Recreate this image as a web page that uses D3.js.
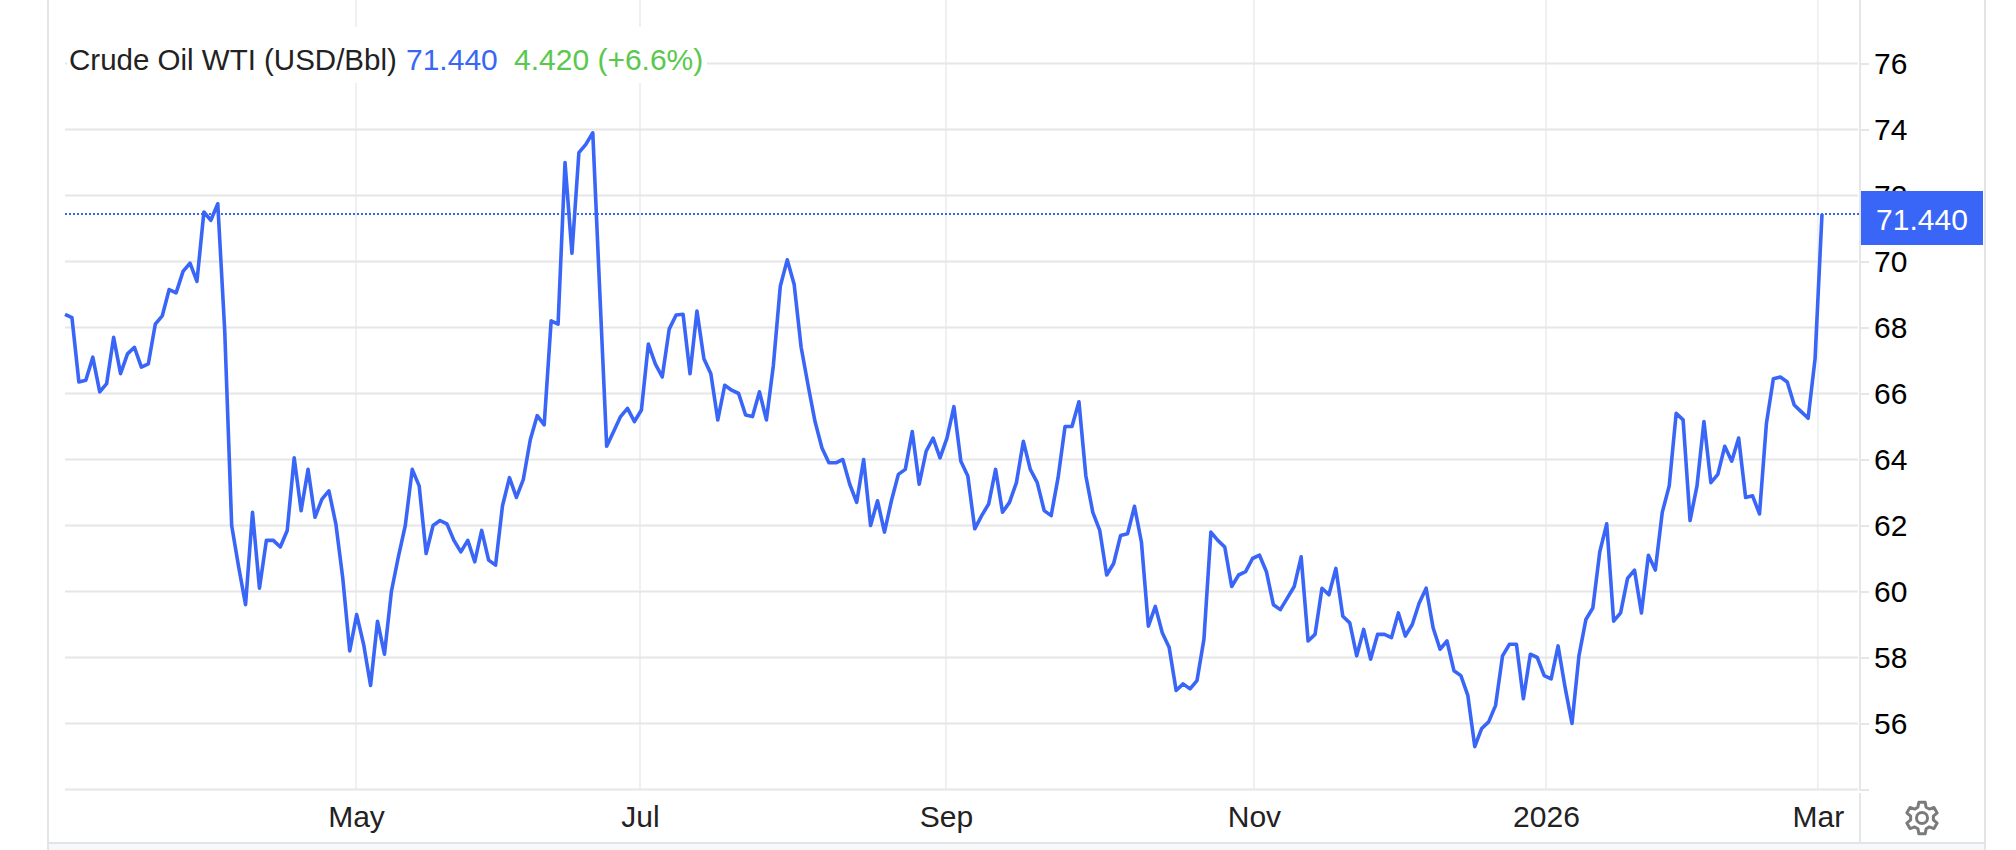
<!DOCTYPE html>
<html>
<head>
<meta charset="utf-8">
<script src="https://cdn.jsdelivr.net/npm/d3@7"></script>
<style>
    body { margin: 0; background: #fff; }
    text { font-family: "Liberation Sans", Helvetica, Arial, sans-serif; }
</style>
</head>
<body>
<div id="chart"></div>
<script>
// daily close, one value per trading day
const prices = [
    68.4, 68.3, 66.35, 66.4, 67.1, 66.05, 66.3, 67.7, 66.6, 67.2,
    67.4, 66.8, 66.9, 68.1, 68.35, 69.15, 69.05, 69.7, 69.95, 69.4,
    71.5, 71.25, 71.75, 67.9, 62.0, 60.75, 59.6, 62.4, 60.1, 61.55,
    61.55, 61.35, 61.85, 64.05, 62.45, 63.7, 62.25, 62.8, 63.05, 62.05,
    60.4, 58.2, 59.3, 58.4, 57.15, 59.1, 58.1, 60.0, 61.05, 62.0,
    63.7, 63.2, 61.15, 62.0, 62.15, 62.05, 61.55, 61.2, 61.55, 60.9,
    61.85, 60.95, 60.8, 62.6, 63.45, 62.85, 63.4, 64.6, 65.33, 65.05,
    68.2, 68.1, 73.0, 70.25, 73.3, 73.55, 73.9, 69.1, 64.4, 64.85,
    65.3, 65.55, 65.15, 65.5, 67.5, 66.9, 66.5, 67.95, 68.38, 68.4,
    66.6, 68.5, 67.05, 66.6, 65.2, 66.25, 66.1, 66.0, 65.35, 65.3,
    66.05, 65.2, 66.85, 69.25, 70.05, 69.3, 67.4, 66.25, 65.15, 64.35,
    63.9, 63.9, 64.0, 63.25, 62.7, 64.0, 62.0, 62.75, 61.8, 62.75,
    63.55, 63.7, 64.85, 63.25, 64.25, 64.65, 64.05, 64.65, 65.6, 63.95,
    63.5, 61.9, 62.3, 62.65, 63.7, 62.4, 62.7, 63.3, 64.55, 63.7,
    63.3, 62.45, 62.3, 63.45, 65.0, 65.0, 65.75, 63.5, 62.4, 61.85,
    60.5, 60.85, 61.7, 61.75, 62.58, 61.5, 58.95, 59.55, 58.75, 58.3,
    57.0, 57.2, 57.05, 57.3, 58.55, 61.8, 61.55, 61.35, 60.15, 60.5,
    60.6, 61.0, 61.1, 60.6, 59.6, 59.45, 59.8, 60.15, 61.05, 58.5,
    58.7, 60.1, 59.9, 60.7, 59.25, 59.05, 58.05, 58.85, 57.95, 58.7,
    58.7, 58.6, 59.35, 58.65, 59.0, 59.65, 60.1, 58.9, 58.25, 58.5,
    57.6, 57.45, 56.85, 55.3, 55.85, 56.05, 56.55, 58.05, 58.4, 58.4,
    56.75, 58.1, 58.0, 57.45, 57.35, 58.35, 57.1, 56.0, 58.05, 59.15,
    59.5, 61.2, 62.05, 59.1, 59.35, 60.4, 60.65, 59.35, 61.1, 60.65,
    62.4, 63.2, 65.4, 65.2, 62.15, 63.2, 65.15, 63.3, 63.55, 64.4,
    63.95, 64.65, 62.85, 62.9, 62.35, 65.1, 66.45, 66.5, 66.35, 65.65,
    65.45, 65.25, 67.05, 71.44
];
const monthLabels = ["May", "Jul", "Sep", "Nov", "2026", "Mar"];
const monthIndex = [41.9, 82.8, 126.85, 171.2, 213.25, 252.4];   // day number where each month starts
const priceTicks = [54, 56, 58, 60, 62, 64, 66, 68, 70, 72, 74, 76];
const hiddenTicks = [54];
const lastValue = "71.440";
const titleName = "Crude Oil WTI (USD/Bbl)";
const titleChange = "4.420 (+6.6%)";

const width = 2016;
const height = 850;
const blue = "#3a66f8";
const gridColor = "#e6e6e6";
const frameColor = "#e3e4e8";

const plotLeft = 65;
const plotRight = 1858;
const axisX = 1860;
const plotBottom = 790;

const svg = d3.select("#chart").append("svg")
    .attr("width", width)
    .attr("height", height)
    .style("display", "block");

const x = d3.scaleLinear().domain([0, prices.length - 1]).range([65, 1822]);
const y = d3.scaleLinear().domain([54, 76]).range([plotBottom - 0.5, 63.5]);

// outer frame
svg.append("rect").attr("x", 48).attr("y", 844).attr("width", 1937).attr("height", 6).attr("fill", "#f7f8fa");
svg.append("line").attr("x1", 48).attr("x2", 48).attr("y1", 0).attr("y2", 850)
    .attr("stroke", frameColor).attr("stroke-width", 2);
svg.append("line").attr("x1", 1985).attr("x2", 1985).attr("y1", 0).attr("y2", 850)
    .attr("stroke", frameColor).attr("stroke-width", 2);
svg.append("line").attr("x1", 48).attr("x2", 1985).attr("y1", 843).attr("y2", 843)
    .attr("stroke", frameColor).attr("stroke-width", 2);

// vertical grid
svg.append("g").selectAll("line")
    .data(monthIndex)
    .enter()
    .append("line")
    .attr("x1", d => x(d))
    .attr("x2", d => x(d))
    .attr("y1", 0)
    .attr("y2", plotBottom)
    .attr("stroke", "#eef1f3")
    .attr("stroke-width", 2);

// horizontal grid
svg.append("g").selectAll("line")
    .data(priceTicks)
    .enter()
    .append("line")
    .attr("x1", plotLeft)
    .attr("x2", plotRight)
    .attr("y1", d => y(d))
    .attr("y2", d => y(d))
    .attr("stroke", gridColor)
    .attr("stroke-width", 2);

// price axis on the right
const yAxis = d3.axisRight(y)
    .tickValues(priceTicks)
    .tickSize(9)
    .tickPadding(5)
    .tickFormat(d => hiddenTicks.includes(d) ? "" : d);
const yAxisG = svg.append("g")
    .attr("transform", `translate(${axisX},0)`)
    .call(yAxis);
yAxisG.select(".domain").remove();
yAxisG.selectAll("line").attr("stroke", gridColor).attr("stroke-width", 2);
yAxisG.selectAll("text")
    .attr("fill", "#000")
    .style("font-size", "30px")
    .style("font-family", "'Liberation Sans', Helvetica, Arial, sans-serif");

svg.append("line").attr("x1", axisX).attr("x2", axisX).attr("y1", 0).attr("y2", plotBottom + 1)
    .attr("stroke", gridColor).attr("stroke-width", 2);
svg.append("line").attr("x1", axisX).attr("x2", axisX).attr("y1", plotBottom + 3).attr("y2", 843)
    .attr("stroke", gridColor).attr("stroke-width", 2);

// month axis
const xAxis = d3.axisBottom(x)
    .tickValues(monthIndex)
    .tickSize(0)
    .tickPadding(16)
    .tickFormat((d, i) => monthLabels[i]);
const xAxisG = svg.append("g")
    .attr("transform", `translate(0,${plotBottom})`)
    .call(xAxis);
xAxisG.select(".domain").remove();
xAxisG.selectAll("text")
    .attr("fill", "#222")
    .style("font-size", "30px")
    .style("font-family", "'Liberation Sans', Helvetica, Arial, sans-serif");

// last price dotted line
svg.append("line")
    .attr("x1", plotLeft)
    .attr("x2", axisX - 1)
    .attr("y1", y(prices[prices.length - 1]))
    .attr("y2", y(prices[prices.length - 1]))
    .attr("stroke", blue)
    .attr("stroke-width", 2)
    .attr("stroke-dasharray", "2 2");

const line = d3.line()
    .x((d, i) => x(i))
    .y(d => y(d));

svg.append("path")
    .datum(prices)
    .attr("d", line)
    .attr("fill", "none")
    .attr("stroke", blue)
    .attr("stroke-width", 3.6)
    .attr("stroke-linejoin", "round");

// title sits on a white patch that hides the grid behind it
svg.append("rect").attr("x", 67).attr("y", 27).attr("width", 640).attr("height", 56).attr("fill", "#fff");
svg.append("text").attr("x", 69).attr("y", 70).attr("fill", "#222").style("font-size", "29.5px").text(titleName);
svg.append("text").attr("x", 406).attr("y", 70).attr("fill", blue).style("font-size", "30px").text(lastValue);
svg.append("text").attr("x", 514).attr("y", 70).attr("fill", "#5ac84e").style("font-size", "30px").text(titleChange);

// last price tag
svg.append("rect").attr("x", 1861).attr("y", 191).attr("width", 122).attr("height", 54).attr("fill", blue);
svg.append("text")
    .attr("x", 1922)
    .attr("y", 230)
    .attr("text-anchor", "middle")
    .attr("fill", "#fff")
    .style("font-size", "30px")
    .text(lastValue);

// settings gear
const gearRadii = [16, 16, 11.5, 11.5];
const gearPoints = d3.range(6).flatMap(k => {
    const c = k * Math.PI / 3;
    return [c - 0.2, c + 0.2, c + 0.36, c + 0.68].map((a, j) => [a, gearRadii[j]]);
});
const gear = svg.append("g").attr("transform", "translate(1922,818)")
    .attr("fill", "none").attr("stroke", "#7b7b7b").attr("stroke-width", 3);
gear.append("path").attr("d", d3.lineRadial().curve(d3.curveLinearClosed)(gearPoints)).attr("stroke-linejoin", "round");
gear.append("circle").attr("r", 5.5);
</script>
</body>
</html>
